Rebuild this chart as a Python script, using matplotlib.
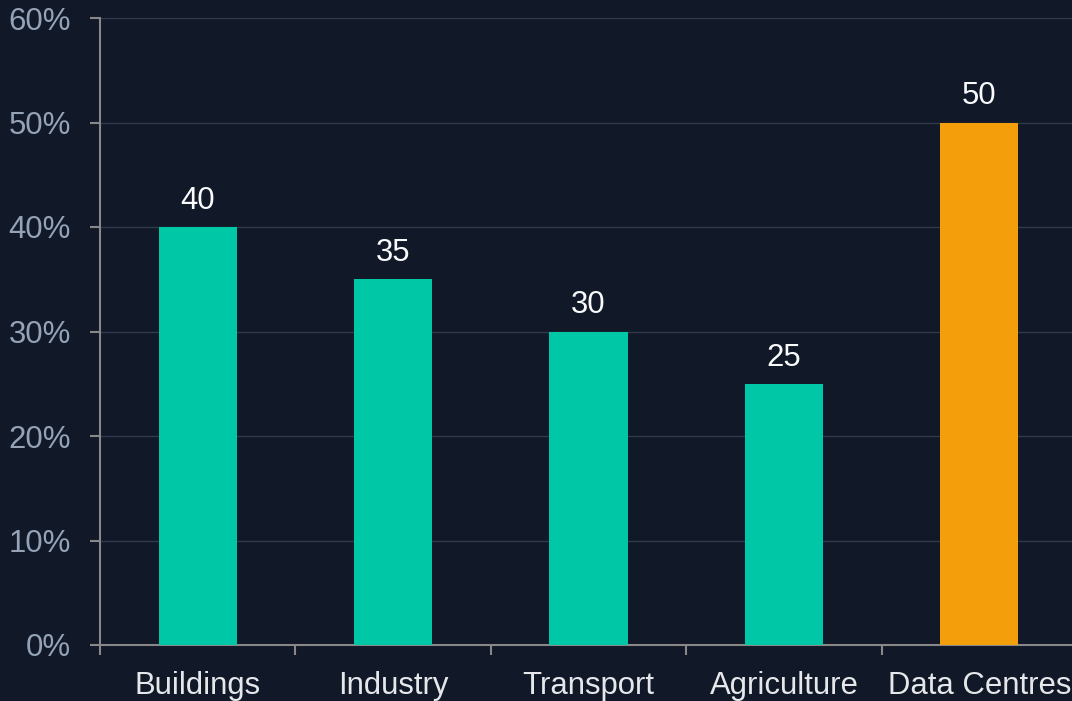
import matplotlib
matplotlib.use("Agg")
import matplotlib.pyplot as plt
from matplotlib.ticker import FuncFormatter

categories = ["Buildings", "Industry", "Transport", "Agriculture", "Data Centres"]
values = [40, 35, 30, 25, 50]
bar_colors = ["#00c8a7", "#00c8a7", "#00c8a7", "#00c8a7", "#f59e0b"]
y_ticks = [0, 10, 20, 30, 40, 50, 60]

bg = "#111827"
fs = 22.4
plt.rcParams["font.family"] = ["Liberation Sans", "DejaVu Sans"]

fig = plt.figure(figsize=(10.72, 7.01), dpi=100, facecolor=bg)
ax = fig.add_axes([100 / 1072, 56 / 701, 977 / 1072, 627 / 701])
ax.set_facecolor(bg)

x = list(range(len(categories)))
bars = ax.bar(x, values, width=0.4, color=bar_colors, zorder=3)

# value labels above bars
for xi, v in zip(x, values):
    ax.annotate(str(v), (xi, v), xytext=(0, 8), textcoords="offset points",
                ha="center", va="bottom", fontsize=fs, color="#f9fafb")

ax.set_xlim(-0.5, len(categories) - 0.5)
ax.set_ylim(0, 60)

ax.set_yticks(y_ticks)
ax.yaxis.set_major_formatter(FuncFormatter(lambda v, p: f"{v:.0f}%"))
ax.tick_params(axis="y", colors="#888888", labelcolor="#94a3b8", labelsize=fs,
               length=7, width=1.5, pad=14)
ax.yaxis.grid(True, color="#2f3a4b", linewidth=1, zorder=0)
ax.set_axisbelow(True)

# category ticks sit between bands, labels at centres
ax.set_xticks([i - 0.5 for i in x])
ax.set_xticklabels([])
ax.set_xticks(x, minor=True)
ax.set_xticklabels(categories, minor=True)
ax.tick_params(axis="x", which="major", colors="#888888", length=7, width=1.5)
ax.tick_params(axis="x", which="minor", length=0, labelcolor="#e5e7eb",
               labelsize=fs, pad=19)

for side in ["top", "right"]:
    ax.spines[side].set_visible(False)
for side in ["left", "bottom"]:
    ax.spines[side].set_color("#888888")
    ax.spines[side].set_linewidth(1.5)

fig.savefig("out.png", dpi=100, facecolor=bg)
